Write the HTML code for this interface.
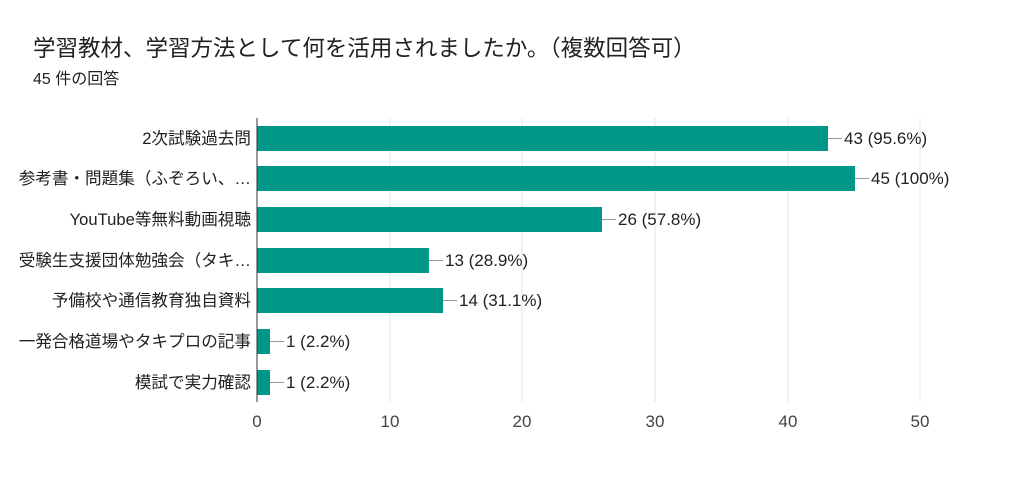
<!DOCTYPE html>
<html><head><meta charset="utf-8"><style>
body{margin:0;background:#fff;width:1024px;height:487px;overflow:hidden;font-family:"Liberation Sans","Noto Sans CJK JP",sans-serif;}
</style></head><body>
<svg width="1024" height="487" xmlns="http://www.w3.org/2000/svg" font-family="Liberation Sans, Noto Sans CJK JP, sans-serif">
<text x="33" y="56" font-size="22.5" fill="#212121">学習教材、学習方法として何を活用されましたか。（複数回答可）</text>
<text x="33" y="84" font-size="16" fill="#212121">45 件の回答</text>
<g stroke="#e6e6e6" stroke-width="1">
<line x1="390" y1="118" x2="390" y2="402"/><line x1="522" y1="118" x2="522" y2="402"/>
<line x1="655" y1="118" x2="655" y2="402"/><line x1="788" y1="118" x2="788" y2="402"/>
<line x1="920" y1="118" x2="920" y2="402"/>
</g>
<g fill="#009688">
<rect x="257" y="126" width="571" height="25"/>
<rect x="257" y="166" width="598" height="25"/>
<rect x="257" y="207" width="345" height="25"/>
<rect x="257" y="248" width="172" height="25"/>
<rect x="257" y="288" width="186" height="25"/>
<rect x="257" y="329" width="13" height="25"/>
<rect x="257" y="370" width="13" height="25"/>
</g>
<line x1="257" y1="118" x2="257" y2="402" stroke="#333" stroke-width="1"/>
<g stroke="#999" stroke-width="1">
<line x1="828" y1="138.5" x2="842" y2="138.5"/><line x1="855" y1="178.5" x2="869" y2="178.5"/>
<line x1="602" y1="219.5" x2="616" y2="219.5"/><line x1="429" y1="260.5" x2="443" y2="260.5"/>
<line x1="443" y1="300.5" x2="457" y2="300.5"/><line x1="270" y1="341.5" x2="284" y2="341.5"/>
<line x1="270" y1="382.5" x2="284" y2="382.5"/>
</g>
<g font-size="17" fill="#212121">
<text x="844" y="144">43 (95.6%)</text><text x="871" y="184">45 (100%)</text>
<text x="618" y="225">26 (57.8%)</text><text x="445" y="266">13 (28.9%)</text>
<text x="459" y="306">14 (31.1%)</text><text x="286" y="347">1 (2.2%)</text>
<text x="286" y="388">1 (2.2%)</text>
</g>
<g font-size="16.6" fill="#212121" text-anchor="end">
<text x="251" y="144">2次試験過去問</text>
<text x="251" y="184">参考書・問題集（ふぞろい、…</text>
<text x="251" y="225">YouTube等無料動画視聴</text>
<text x="251" y="266">受験生支援団体勉強会（タキ…</text>
<text x="251" y="306">予備校や通信教育独自資料</text>
<text x="251" y="347">一発合格道場やタキプロの記事</text>
<text x="251" y="388">模試で実力確認</text>
</g>
<g font-size="17" fill="#444" text-anchor="middle">
<text x="257" y="427">0</text><text x="390" y="427">10</text><text x="522" y="427">20</text>
<text x="655" y="427">30</text><text x="788" y="427">40</text><text x="920" y="427">50</text>
</g>
</svg>
</body></html>
